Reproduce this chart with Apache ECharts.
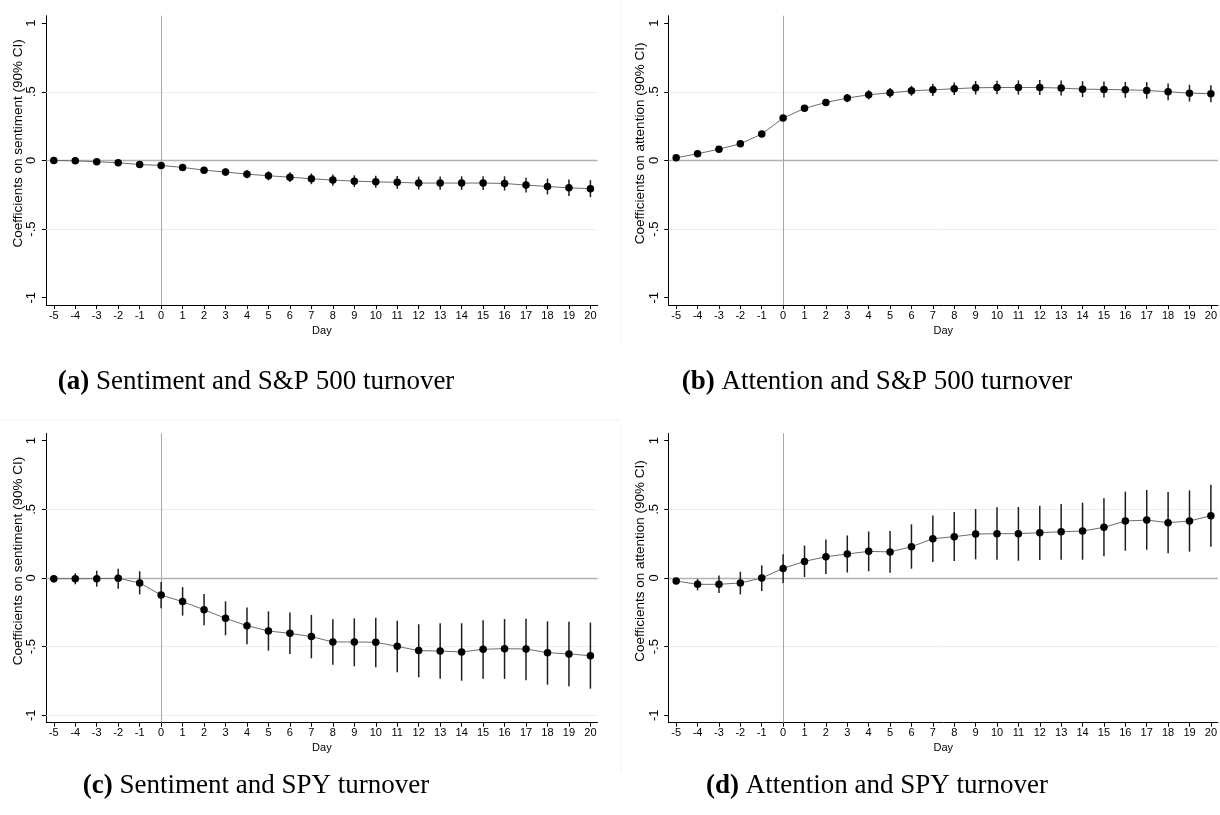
<!DOCTYPE html>
<html>
<head>
<meta charset="utf-8">
<script src="https://cdn.jsdelivr.net/npm/echarts@6/dist/echarts.min.js"></script>
<style>
html,body{margin:0;padding:0;background:#fff;}
#chart{width:1220px;height:815px;}
</style>
</head>
<body>
<div id="chart"></div>
<script>
// ---- Data ----
const days = [-5,-4,-3,-2,-1,0,1,2,3,4,5,6,7,8,9,10,11,12,13,14,15,16,17,18,19,20];
const xTickLabels = ['-5','-4','-3','-2','-1','0','1','2','3','4','5','6','7','8','9','10','11','12','13','14','15','16','17','18','19','20'];
const yTickValues = [-1,-0.5,0,0.5,1];
const yTickLabels = ['-1','-.5','0','.5','1'];

// (a) Sentiment and S&P 500 turnover
const sentSP500    = [0.000,-0.003,-0.010,-0.017,-0.030,-0.037,-0.051,-0.071,-0.085,-0.100,-0.112,-0.122,-0.134,-0.143,-0.151,-0.156,-0.160,-0.165,-0.165,-0.165,-0.165,-0.168,-0.180,-0.190,-0.200,-0.206];
const sentSP500Lo  = [-0.005,-0.010,-0.019,-0.028,-0.043,-0.052,-0.069,-0.093,-0.112,-0.130,-0.145,-0.158,-0.173,-0.184,-0.193,-0.200,-0.206,-0.212,-0.213,-0.214,-0.215,-0.220,-0.234,-0.248,-0.260,-0.268];
const sentSP500Hi  = [0.005,0.004,-0.001,-0.006,-0.017,-0.022,-0.033,-0.049,-0.058,-0.070,-0.079,-0.086,-0.095,-0.102,-0.109,-0.112,-0.114,-0.118,-0.117,-0.116,-0.115,-0.116,-0.126,-0.132,-0.140,-0.144];

// (b) Attention and S&P 500 turnover
const attnSP500    = [0.019,0.048,0.082,0.121,0.192,0.308,0.379,0.422,0.454,0.478,0.492,0.507,0.514,0.522,0.529,0.531,0.531,0.531,0.527,0.519,0.517,0.514,0.510,0.500,0.490,0.485];
const attnSP500Lo  = [0.011,0.038,0.070,0.107,0.176,0.289,0.357,0.396,0.424,0.444,0.457,0.471,0.470,0.476,0.480,0.481,0.479,0.477,0.472,0.461,0.459,0.456,0.450,0.439,0.429,0.423];
const attnSP500Hi  = [0.027,0.058,0.094,0.135,0.208,0.327,0.401,0.448,0.484,0.512,0.527,0.543,0.558,0.568,0.578,0.581,0.583,0.585,0.582,0.577,0.575,0.572,0.570,0.561,0.551,0.547];

// (c) Sentiment and SPY turnover
const sentSPY      = [-0.005,-0.005,-0.005,-0.002,-0.036,-0.124,-0.172,-0.231,-0.294,-0.347,-0.386,-0.403,-0.427,-0.466,-0.466,-0.468,-0.498,-0.529,-0.532,-0.539,-0.519,-0.515,-0.517,-0.544,-0.553,-0.566];
const sentSPYLo    = [-0.032,-0.046,-0.063,-0.078,-0.119,-0.221,-0.274,-0.345,-0.417,-0.483,-0.529,-0.553,-0.585,-0.631,-0.643,-0.650,-0.687,-0.723,-0.733,-0.748,-0.733,-0.735,-0.745,-0.777,-0.789,-0.806];
const sentSPYHi    = [0.017,0.034,0.053,0.068,0.049,-0.029,-0.066,-0.117,-0.170,-0.214,-0.243,-0.252,-0.269,-0.301,-0.294,-0.289,-0.311,-0.337,-0.330,-0.330,-0.308,-0.299,-0.296,-0.316,-0.318,-0.325];

// (d) Attention and SPY turnover
const attnSPY      = [-0.022,-0.046,-0.046,-0.036,0.000,0.070,0.121,0.155,0.175,0.194,0.190,0.228,0.286,0.301,0.320,0.323,0.323,0.330,0.337,0.342,0.369,0.415,0.422,0.403,0.415,0.454];
const attnSPYLo    = [-0.040,-0.090,-0.109,-0.119,-0.095,-0.036,0.007,0.030,0.040,0.049,0.038,0.068,0.117,0.124,0.136,0.133,0.126,0.131,0.133,0.133,0.158,0.199,0.206,0.180,0.192,0.228];
const attnSPYHi    = [-0.004,-0.007,0.019,0.046,0.092,0.173,0.236,0.280,0.310,0.339,0.342,0.391,0.456,0.481,0.502,0.515,0.517,0.527,0.539,0.549,0.580,0.629,0.641,0.626,0.638,0.680];

const yNames = ['Coefficients on sentiment (90% CI)','Coefficients on attention (90% CI)','Coefficients on sentiment (90% CI)','Coefficients on attention (90% CI)'];
const captionTags = ['(a)','(b)','(c)','(d)'];
const captionTexts = ['Sentiment and S&P 500 turnover','Attention and S&P 500 turnover','Sentiment and SPY turnover','Attention and SPY turnover'];

// ---- Build ----
const panels = [
  {c: sentSP500, lo: sentSP500Lo, hi: sentSP500Hi, extraGrid: []},
  {c: attnSP500, lo: attnSP500Lo, hi: attnSP500Hi, extraGrid: []},
  {c: sentSPY,   lo: sentSPYLo,   hi: sentSPYHi,   extraGrid: [-1]},
  {c: attnSPY,   lo: attnSPYLo,   hi: attnSPYHi,   extraGrid: []}
];
const gridPos = [
  {left: 46.3,  top: 15.7},
  {left: 668.7, top: 15.7},
  {left: 46.3,  top: 433.3},
  {left: 668.7, top: 433.3}
];
const GW = 551.2, GH = 289.4;
const FONT = '"Liberation Sans", Arial, sans-serif';

const grids = [], xAxes = [], yAxes = [], series = [];
panels.forEach((p, i) => {
  grids.push({left: gridPos[i].left, top: gridPos[i].top, width: GW, height: GH, containLabel: false});
  xAxes.push({
    type: 'value', gridIndex: i, min: -5.35, max: 20.33,
    name: 'Day', nameLocation: 'middle', nameGap: 20, nameMoveOverlap: false,
    nameTextStyle: {fontSize: 11, color: '#000', fontFamily: FONT},
    axisLine: {show: true, onZero: false, lineStyle: {color: '#000', width: 1}},
    axisTick: {show: true, customValues: days, length: 4, lineStyle: {color: '#000', width: 1}},
    axisLabel: {customValues: days, fontSize: 11, color: '#000', margin: 5, fontFamily: FONT,
      formatter: v => xTickLabels[days.indexOf(v)]},
    splitLine: {show: false}
  });
  yAxes.push({
    type: 'value', gridIndex: i, min: -1.054, max: 1.054,
    name: yNames[i], nameLocation: 'middle', nameGap: 21, nameMoveOverlap: false,
    nameTextStyle: {fontSize: 13.5, color: '#000', fontFamily: FONT, padding: [0, 0, 0, 34]},
    axisLine: {show: true, onZero: false, lineStyle: {color: '#000', width: 1}},
    axisTick: {show: true, customValues: yTickValues, length: 4.5, lineStyle: {color: '#000', width: 1}},
    axisLabel: {customValues: yTickValues, rotate: 90, fontSize: 13, color: '#000', margin: 8, fontFamily: FONT,
      formatter: v => yTickLabels[yTickValues.indexOf(v)]},
    splitLine: {show: false}
  });
  // light grid lines
  series.push({
    type: 'line', xAxisIndex: i, yAxisIndex: i, data: [], silent: true, z: 1,
    markLine: {silent: true, z: 1, symbol: ['none','none'], label: {show: false}, animation: false,
      lineStyle: {color: '#e8f0f1', width: 1, type: 'solid'},
      data: [0.5, -0.5].concat(p.extraGrid).map(v => ({yAxis: v}))}
  });
  // reference lines at 0
  series.push({
    type: 'line', xAxisIndex: i, yAxisIndex: i, data: [], silent: true, z: 2,
    markLine: {silent: true, z: 2, symbol: ['none','none'], label: {show: false}, animation: false,
      data: [
        {yAxis: 0, lineStyle: {color: '#aeb4b4', width: 1.3, type: 'solid'}},
        {xAxis: 0, lineStyle: {color: '#a6a6a6', width: 1, type: 'solid'}}
      ]}
  });
  // confidence intervals
  series.push({
    type: 'custom', xAxisIndex: i, yAxisIndex: i, z: 3, silent: true,
    data: days.map((d, k) => [d, p.lo[k], p.hi[k]]),
    encode: {x: 0, y: [1, 2]},
    renderItem: (params, api) => {
      const a = api.coord([api.value(0), api.value(1)]);
      const b = api.coord([api.value(0), api.value(2)]);
      return {type: 'line', shape: {x1: a[0], y1: a[1], x2: b[0], y2: b[1]},
        style: {stroke: '#1e1e1e', lineWidth: 1.5}};
    }
  });
  // coefficients
  series.push({
    type: 'line', xAxisIndex: i, yAxisIndex: i, z: 4, silent: true,
    data: days.map((d, k) => [d, p.c[k]]),
    symbol: 'circle', symbolSize: 7.5, showSymbol: true,
    lineStyle: {color: '#6c6c6c', width: 1},
    itemStyle: {color: '#000'}
  });
});

const capCenters = [[256, 382], [877, 382], [256, 786], [877, 786]];
const graphics = captionTags.map((t, i) => ({
  type: 'text', x: capCenters[i][0], y: capCenters[i][1],
  style: {
    text: '{b|' + t + '} ' + captionTexts[i],
    textAlign: 'center', textVerticalAlign: 'middle',
    fontFamily: '"Liberation Serif", "Times New Roman", serif', fontSize: 27, fill: '#000',
    rich: {b: {fontWeight: 'bold', fontFamily: '"Liberation Serif", "Times New Roman", serif', fontSize: 27}}
  }
}));
// faint graph-region borders
graphics.push({type: 'line', shape: {x1: 621, y1: 0, x2: 621, y2: 345}, style: {stroke: '#f1f1f1', lineWidth: 1}});
graphics.push({type: 'line', shape: {x1: 621, y1: 425, x2: 621, y2: 772}, style: {stroke: '#f1f1f1', lineWidth: 1}});
graphics.push({type: 'line', shape: {x1: 0, y1: 420, x2: 620, y2: 420}, style: {stroke: '#f1f1f1', lineWidth: 1}});

const chart = echarts.init(document.getElementById('chart'), null, {renderer: 'canvas'});
chart.setOption({
  animation: false,
  backgroundColor: '#fff',
  grid: grids, xAxis: xAxes, yAxis: yAxes, series: series,
  graphic: graphics
});
</script>
</body>
</html>
